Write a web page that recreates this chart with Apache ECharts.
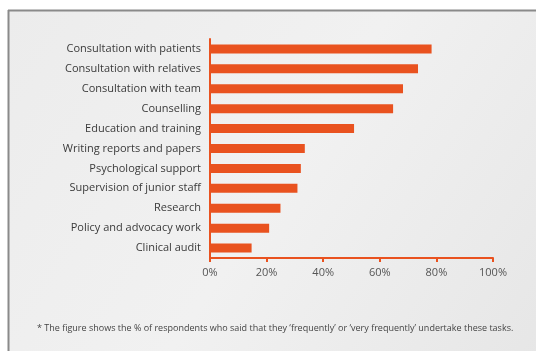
<!DOCTYPE html>
<html>
<head>
<meta charset="utf-8">
<script src="https://cdn.jsdelivr.net/npm/echarts@6/dist/echarts.min.js"></script>
<style>
html,body{margin:0;padding:0;background:#fff;}
#c{width:536px;height:351px;}
</style>
</head>
<body>
<div id="c"></div>
<script>
const categories = ["Consultation with patients","Consultation with relatives","Consultation with team","Counselling","Education and training","Writing reports and papers","Psychological support","Supervision of junior staff","Research","Policy and advocacy work","Clinical audit"];
const values = [78.3, 73.5, 68.2, 64.7, 50.9, 33.5, 32.1, 30.9, 24.9, 20.9, 14.7];
const tickLabels = ["0%","20%","40%","60%","80%","100%"];
const footnote = "* The figure shows the % of respondents who said that they \u2018frequently\u2019 or \u2018very frequently\u2019 undertake these tasks.";

const chart = echarts.init(document.getElementById('c'), null, {renderer:'canvas'});
const orange = '#e9521f';
chart.setOption({
  animation:false,
  backgroundColor:'#ffffff',
  graphic:[
    {type:'rect', shape:{x:8,y:10,width:540,height:350}, style:{fill:new echarts.graphic.LinearGradient(0,0,1,1,[{offset:0,color:'#ececec'},{offset:0.5,color:'#f1f1f1'},{offset:1,color:'#e6e6e6'}]), stroke:null}, z:-10},
    {type:'line', shape:{x1:8,y1:10.5,x2:536,y2:10.5}, style:{stroke:'#8a8a8a',lineWidth:2}, z:-9},
    {type:'line', shape:{x1:8.5,y1:10,x2:8.5,y2:351}, style:{stroke:'#8a8a8a',lineWidth:2}, z:-9},
    {type:'text', left:37, top:324, style:{text:footnote, font:'9px "Open Sans"', fill:'#444444'}}
  ],
  grid:{left:210, width:283, top:39, height:219, containLabel:false},
  xAxis:{
    type:'value', min:0, max:100, interval:20,
    axisLine:{show:true, lineStyle:{color:orange, width:2}},
    axisTick:{show:true, length:4, lineStyle:{color:orange, width:2}},
    splitLine:{show:false},
    axisLabel:{color:'#555555', fontFamily:'Open Sans', fontSize:11, margin:9,
      formatter:function(v){return tickLabels[Math.round(v/20)];}}
  },
  yAxis:{
    type:'category', data:categories, inverse:true,
    axisLine:{show:true, lineStyle:{color:orange, width:2}},
    axisTick:{show:false},
    axisLabel:{color:'#3a3a3a', fontFamily:'Open Sans', fontSize:11, margin:9}
  },
  series:[{
    type:'bar', data:values, barWidth:9,
    itemStyle:{color:orange}
  }]
});
</script>
</body>
</html>
